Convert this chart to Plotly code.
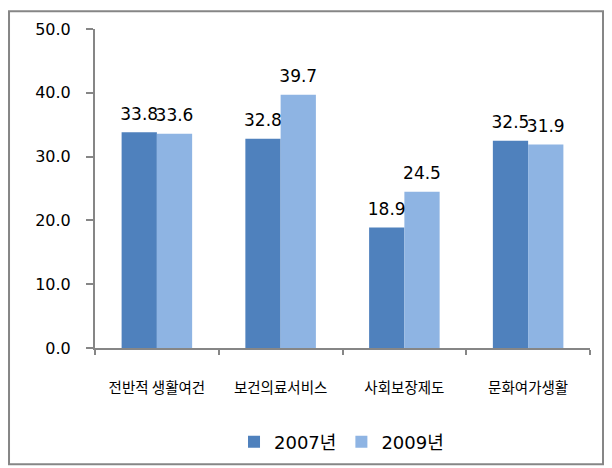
import plotly.graph_objects as go

categories = ["전반적 생활여건", "보건의료서비스", "사회보장제도", "문화여가생활"]
series_names = ["2007년", "2009년"]
values_2007 = [33.8, 32.8, 18.9, 32.5]
values_2009 = [33.6, 39.7, 24.5, 31.9]
y_ticks = [0, 10, 20, 30, 40, 50]

NUM_FONT = "DejaVu Sans, Noto Sans CJK KR"
KR_FONT = "Noto Sans CJK KR"
AXIS_GRAY = "#868686"
colors = ["#4F81BD", "#8EB4E3"]

fig = go.Figure()
for i, (name, vals) in enumerate([(series_names[0], values_2007),
                                  (series_names[1], values_2009)]):
    fig.add_trace(go.Bar(
        x=categories, y=vals, name=name, offsetgroup=str(i),
        marker=dict(color=colors[i], line=dict(width=0)),
    ))
    # value labels, sitting a bit above each bar
    fig.add_trace(go.Scatter(
        x=categories, y=vals, offsetgroup=str(i), showlegend=False,
        mode="markers+text", marker=dict(size=12, opacity=0),
        text=[f"{v:.1f}" for v in vals], textposition="top center",
        textfont=dict(family=NUM_FONT, size=17, color="black"),
        hoverinfo="skip", cliponaxis=False,
    ))

fig.update_layout(
    width=604, height=460,
    margin=dict(l=87, r=22, t=19, b=120),
    paper_bgcolor="white", plot_bgcolor="white",
    barmode="group", bargap=0.43, bargroupgap=0,
    scattermode="group", scattergap=0.43,
    font=dict(family=NUM_FONT, color="black"),
    legend=dict(orientation="h", x=0.498, xanchor="center",
                yref="container", y=0.0565, yanchor="middle",
                font=dict(family=NUM_FONT, size=18), itemwidth=30,
                traceorder="normal"),
    shapes=[dict(type="rect", xref="paper", yref="paper",
                 x0=-0.1737, x1=1.0263, y0=-0.3645, y1=1.056,
                 line=dict(color=AXIS_GRAY, width=2))],
)

fig.update_xaxes(
    showline=True, linecolor=AXIS_GRAY, linewidth=2,
    ticks="outside", tickson="boundaries", ticklen=5, tickcolor=AXIS_GRAY, tickwidth=2,
    tickfont=dict(family=KR_FONT, size=14.5), ticklabelstandoff=26,
    showgrid=False,
)
fig.update_yaxes(
    range=[0, 50], tickvals=y_ticks, ticktext=[f"{v:.1f}" for v in y_ticks],
    showline=True, linecolor=AXIS_GRAY, linewidth=2,
    ticks="outside", ticklen=7, tickcolor=AXIS_GRAY, tickwidth=2,
    tickfont=dict(family=NUM_FONT, size=16), ticklabelstandoff=12,
    showgrid=False, zeroline=False,
)

fig.write_html("out.html")
